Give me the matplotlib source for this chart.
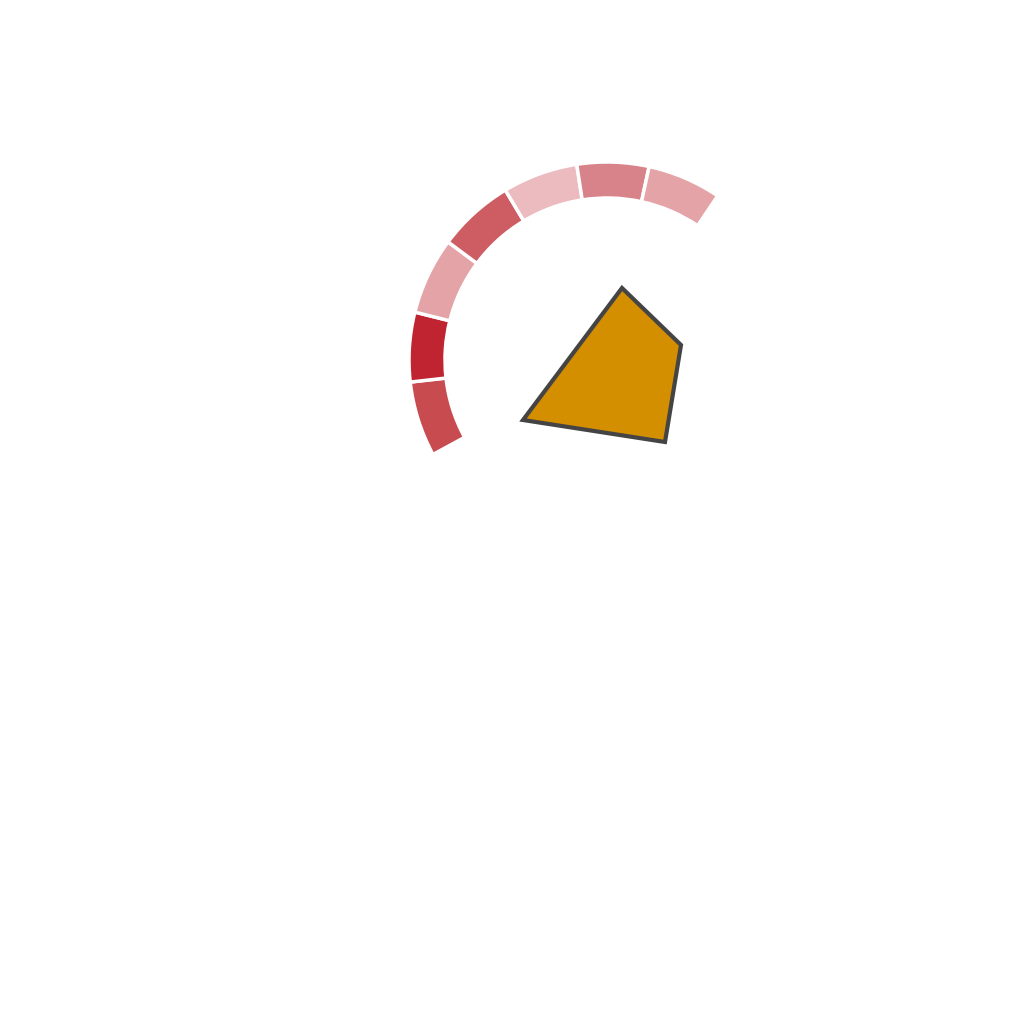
import numpy as np
import matplotlib.pyplot as plt
from matplotlib.patches import Wedge, Polygon

# arc segments (angles in degrees, counter-clockwise from east)
seg_start = [186.4, 166.0, 143.4, 120.9, 98.8, 77.7, 56.0]
seg_end = [208.5, 186.4, 166.0, 143.4, 120.9, 98.8, 77.7]
seg_colors = ['#c84b50', '#bf2430', '#e3a3a7', '#cd5c63',
              '#ebbbbf', '#d88389', '#e3a3a7']
r_inner = 162
r_outer = 198

# quadrilateral vertices, relative to arc centre
poly_x = [15, 74, 58, -84]
poly_y = [72, 15, -82, -60]

fig = plt.figure(figsize=(10.24, 10.24), dpi=100)
ax = fig.add_axes([0, 0, 1, 1])
ax.set_xlim(-607, 417)
ax.set_ylim(-664, 360)
ax.set_aspect('equal')
ax.axis('off')

for a0, a1, c in zip(seg_start, seg_end, seg_colors):
    w = Wedge((0, 0), r_outer, a0, a1, width=r_outer - r_inner,
              facecolor=c, edgecolor='white', linewidth=2.5)
    ax.add_patch(w)

poly = Polygon(np.column_stack([poly_x, poly_y]), closed=True,
               facecolor='#d48f00', edgecolor='#444444', linewidth=3,
               joinstyle='miter')
ax.add_patch(poly)

fig.savefig('out.png', dpi=100, facecolor='white')
